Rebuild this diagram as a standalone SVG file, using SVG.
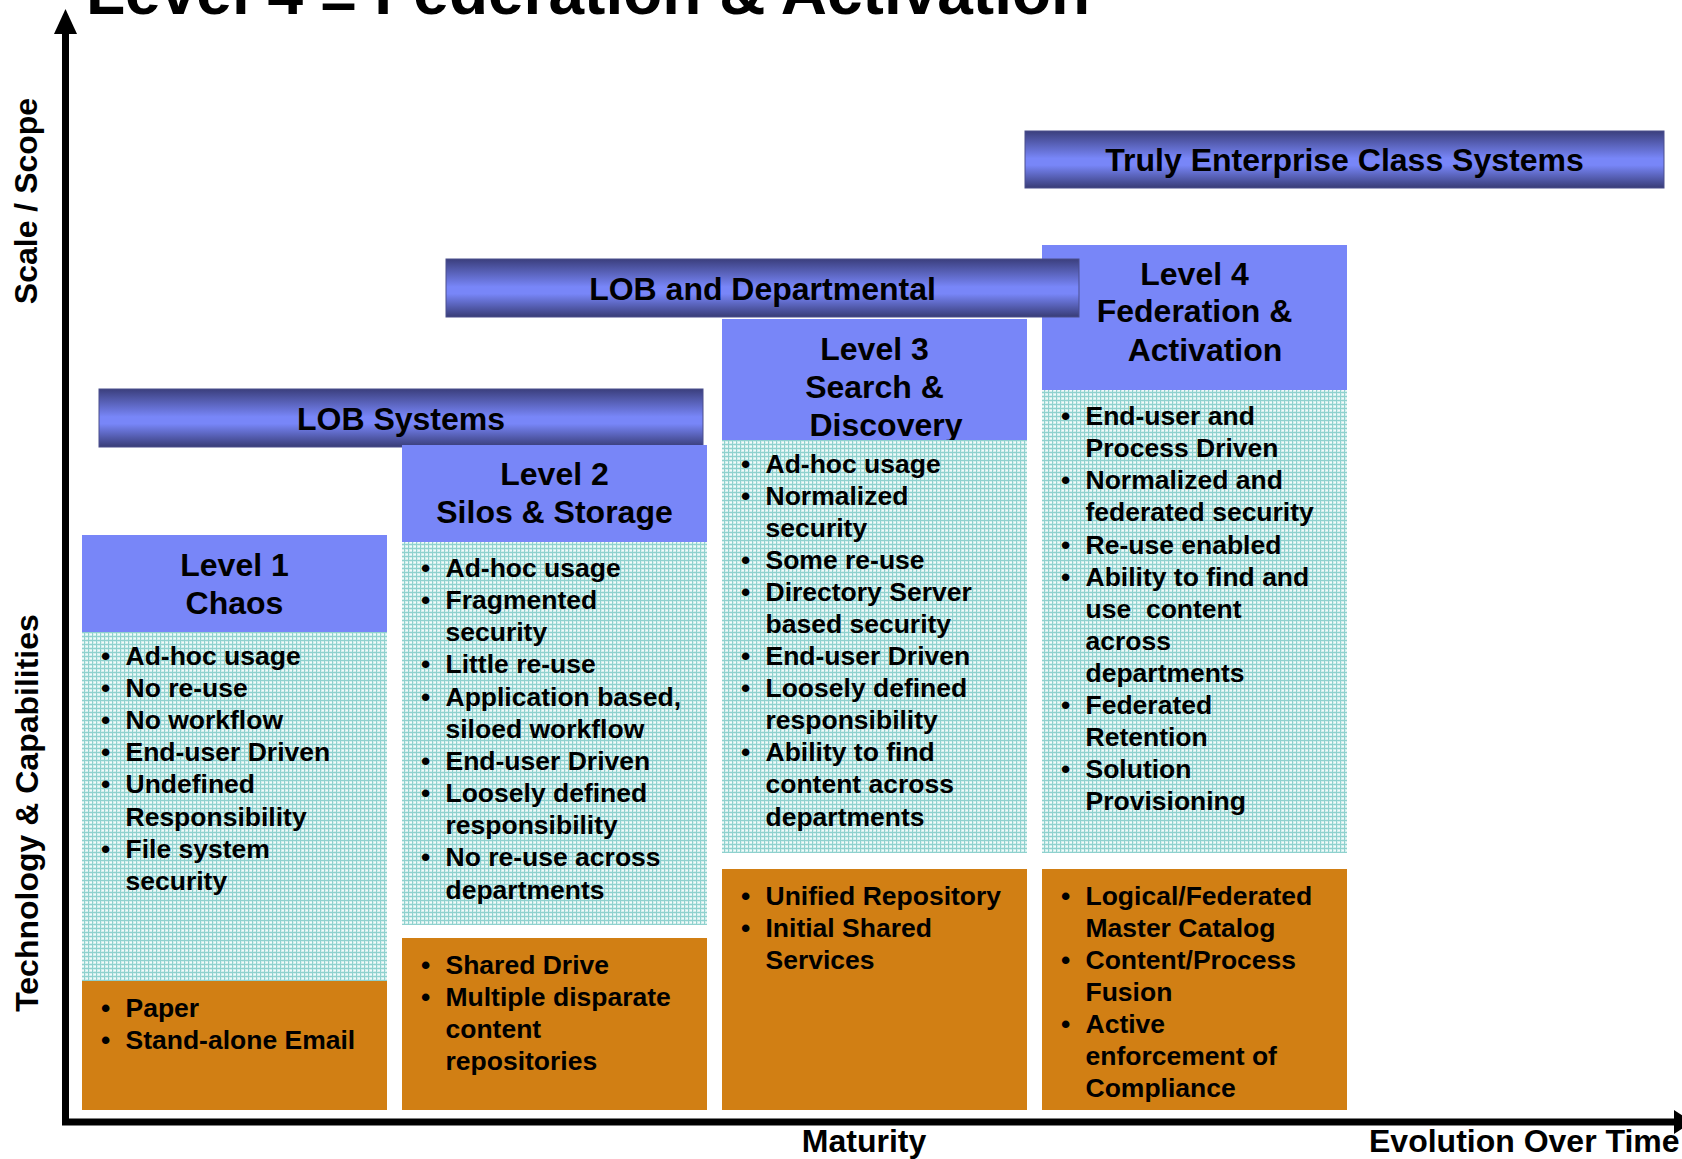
<svg xmlns="http://www.w3.org/2000/svg" width="1682" height="1159" viewBox="0 0 1682 1159">
  <style>
    text { font-family: "Liberation Sans", Arial, sans-serif; font-weight: bold; fill: #000; }
    .title { font-size: 64px; }
    .axis { font-size: 32px; }
    .band-label { font-size: 32px; text-anchor: middle; }
    .head { font-size: 32px; text-anchor: middle; }
    .item { font-size: 26.5px; }
    .head-bg { fill: #7886f8; }
    .body-bg { fill: url(#grid); }
    .base-bg { fill: #d17f14; }
    .band { fill: url(#bandShade); stroke: #4a4f8c; stroke-width: 1; }
  </style>
  <defs>
    <!-- fine teal check used behind the capability lists -->
    <pattern id="grid" width="4" height="4" patternUnits="userSpaceOnUse">
      <rect width="4" height="4" fill="#d2efed"/>
      <rect x="0" y="0" width="4" height="1" fill="#8fd1ce"/>
      <rect x="0" y="0" width="1" height="4" fill="#8fd1ce"/>
      <rect x="2" y="2" width="2" height="1" fill="#f4fbfb"/>
    </pattern>
    <!-- navy-to-blue cylinder shading for the scope bands -->
    <linearGradient id="bandShade" x1="0" y1="0" x2="0" y2="1">
      <stop offset="0" stop-color="#3b3f7d"/>
      <stop offset="0.48" stop-color="#7886f8"/>
      <stop offset="0.6" stop-color="#7886f8"/>
      <stop offset="1" stop-color="#383c76"/>
    </linearGradient>
  </defs>

  <rect width="1682" height="1159" fill="#ffffff"/>

  <!-- heading, partly above the top edge -->
  <text class="title" x="86" y="14">Level 4 <tspan dy="10">–</tspan><tspan dy="-10"> Federation &amp; Activation</tspan></text>

  <!-- axes -->
  <g id="connectors">
    <line x1="65.5" y1="30" x2="65.5" y2="1125" stroke="#000" stroke-width="7"/>
    <polygon points="65.5,9 54,34 77,34" fill="#000"/>
    <line x1="62" y1="1122" x2="1676" y2="1122" stroke="#000" stroke-width="7"/>
    <polygon points="1692,1122 1674,1110 1674,1134" fill="#000"/>
  </g>

  <!-- axis captions -->
  <g id="axis-labels">
    <text class="axis" text-anchor="middle" transform="translate(37,201) rotate(-90)">Scale / Scope</text>
    <text class="axis" text-anchor="middle" transform="translate(37.5,813) rotate(-90)">Technology &amp; Capabilities</text>
    <text class="axis" x="864" y="1152" text-anchor="middle">Maturity</text>
    <text class="axis" x="1369" y="1152">Evolution Over Time</text>
  </g>

  <!-- scope bands -->
  <g id="band-lob">
    <rect class="band" x="99" y="389" width="604" height="58"/>
    <text class="band-label" x="401" y="429.5">LOB Systems</text>
  </g>

  <!-- Level 1 -->
  <g id="level1">
    <rect class="head-bg" x="82" y="535" width="305" height="97"/>
    <text class="head" x="234.5" y="576">Level 1</text>
    <text class="head" x="234.5" y="614">Chaos</text>
    <rect class="body-bg" x="82" y="632" width="305" height="349"/>
    <text class="item">
      <tspan x="101" y="665">•</tspan><tspan x="125.5" y="665">Ad-hoc usage</tspan>
      <tspan x="101" y="697">•</tspan><tspan x="125.5" y="697">No re-use</tspan>
      <tspan x="101" y="729">•</tspan><tspan x="125.5" y="729">No workflow</tspan>
      <tspan x="101" y="761">•</tspan><tspan x="125.5" y="761">End-user Driven</tspan>
      <tspan x="101" y="793">•</tspan><tspan x="125.5" y="793">Undefined</tspan>
      <tspan x="125.5" y="826">Responsibility</tspan>
      <tspan x="101" y="858">•</tspan><tspan x="125.5" y="858">File system</tspan>
      <tspan x="125.5" y="890">security</tspan>
    </text>
    <rect class="base-bg" x="82" y="981" width="305" height="129"/>
    <text class="item">
      <tspan x="101" y="1017">•</tspan><tspan x="125.5" y="1017">Paper</tspan>
      <tspan x="101" y="1049">•</tspan><tspan x="125.5" y="1049">Stand-alone Email</tspan>
    </text>
  </g>

  <!-- Level 2 -->
  <g id="level2">
    <rect class="head-bg" x="402" y="445" width="305" height="97"/>
    <text class="head" x="554.5" y="485">Level 2</text>
    <text class="head" x="554.5" y="523">Silos &amp; Storage</text>
    <rect class="body-bg" x="402" y="542" width="305" height="383"/>
    <text class="item">
      <tspan x="421" y="577">•</tspan><tspan x="445.5" y="577">Ad-hoc usage</tspan>
      <tspan x="421" y="609">•</tspan><tspan x="445.5" y="609">Fragmented</tspan>
      <tspan x="445.5" y="641">security</tspan>
      <tspan x="421" y="673">•</tspan><tspan x="445.5" y="673">Little re-use</tspan>
      <tspan x="421" y="705.5">•</tspan><tspan x="445.5" y="705.5">Application based,</tspan>
      <tspan x="445.5" y="738">siloed workflow</tspan>
      <tspan x="421" y="770">•</tspan><tspan x="445.5" y="770">End-user Driven</tspan>
      <tspan x="421" y="802">•</tspan><tspan x="445.5" y="802">Loosely defined</tspan>
      <tspan x="445.5" y="834">responsibility</tspan>
      <tspan x="421" y="866">•</tspan><tspan x="445.5" y="866">No re-use across</tspan>
      <tspan x="445.5" y="898.5">departments</tspan>
    </text>
    <rect class="base-bg" x="402" y="938" width="305" height="172"/>
    <text class="item">
      <tspan x="421" y="974">•</tspan><tspan x="445.5" y="974">Shared Drive</tspan>
      <tspan x="421" y="1006">•</tspan><tspan x="445.5" y="1006">Multiple disparate</tspan>
      <tspan x="445.5" y="1038">content</tspan>
      <tspan x="445.5" y="1070">repositories</tspan>
    </text>
  </g>

  <!-- Level 3 -->
  <g id="level3">
    <rect class="head-bg" x="722" y="319" width="305" height="121"/>
    <text class="head" x="874.5" y="360">Level 3</text>
    <text class="head" x="874.5" y="397.5">Search &amp;</text>
    <text class="head" x="886" y="436">Discovery</text>
    <rect class="body-bg" x="722" y="440" width="305" height="413"/>
    <text class="item">
      <tspan x="741" y="473">•</tspan><tspan x="765.5" y="473">Ad-hoc usage</tspan>
      <tspan x="741" y="505">•</tspan><tspan x="765.5" y="505">Normalized</tspan>
      <tspan x="765.5" y="537">security</tspan>
      <tspan x="741" y="569">•</tspan><tspan x="765.5" y="569">Some re-use</tspan>
      <tspan x="741" y="601">•</tspan><tspan x="765.5" y="601">Directory Server</tspan>
      <tspan x="765.5" y="633">based security</tspan>
      <tspan x="741" y="665">•</tspan><tspan x="765.5" y="665">End-user Driven</tspan>
      <tspan x="741" y="697">•</tspan><tspan x="765.5" y="697">Loosely defined</tspan>
      <tspan x="765.5" y="729">responsibility</tspan>
      <tspan x="741" y="761">•</tspan><tspan x="765.5" y="761">Ability to find</tspan>
      <tspan x="765.5" y="793">content across</tspan>
      <tspan x="765.5" y="825.5">departments</tspan>
    </text>
    <rect class="base-bg" x="722" y="869" width="305" height="241"/>
    <text class="item">
      <tspan x="741" y="905">•</tspan><tspan x="765.5" y="905">Unified Repository</tspan>
      <tspan x="741" y="937">•</tspan><tspan x="765.5" y="937">Initial Shared</tspan>
      <tspan x="765.5" y="969">Services</tspan>
    </text>
  </g>

  <!-- Level 4 -->
  <g id="level4">
    <rect class="head-bg" x="1042" y="245" width="305" height="145"/>
    <text class="head" x="1194.5" y="285">Level 4</text>
    <text class="head" x="1194.5" y="322">Federation &amp;</text>
    <text class="head" x="1205" y="361">Activation</text>
    <rect class="body-bg" x="1042" y="390" width="305" height="463"/>
    <text class="item">
      <tspan x="1061" y="425">•</tspan><tspan x="1085.5" y="425">End-user and</tspan>
      <tspan x="1085.5" y="457">Process Driven</tspan>
      <tspan x="1061" y="489">•</tspan><tspan x="1085.5" y="489">Normalized and</tspan>
      <tspan x="1085.5" y="521">federated security</tspan>
      <tspan x="1061" y="553.5">•</tspan><tspan x="1085.5" y="553.5">Re-use enabled</tspan>
      <tspan x="1061" y="586">•</tspan><tspan x="1085.5" y="586">Ability to find and</tspan>
      <tspan x="1085.5" y="618" xml:space="preserve">use  content</tspan>
      <tspan x="1085.5" y="650">across</tspan>
      <tspan x="1085.5" y="682">departments</tspan>
      <tspan x="1061" y="714">•</tspan><tspan x="1085.5" y="714">Federated</tspan>
      <tspan x="1085.5" y="746">Retention</tspan>
      <tspan x="1061" y="778">•</tspan><tspan x="1085.5" y="778">Solution</tspan>
      <tspan x="1085.5" y="810">Provisioning</tspan>
    </text>
    <rect class="base-bg" x="1042" y="869" width="305" height="241"/>
    <text class="item">
      <tspan x="1061" y="905">•</tspan><tspan x="1085.5" y="905">Logical/Federated</tspan>
      <tspan x="1085.5" y="937">Master Catalog</tspan>
      <tspan x="1061" y="969">•</tspan><tspan x="1085.5" y="969">Content/Process</tspan>
      <tspan x="1085.5" y="1001">Fusion</tspan>
      <tspan x="1061" y="1033">•</tspan><tspan x="1085.5" y="1033">Active</tspan>
      <tspan x="1085.5" y="1065">enforcement of</tspan>
      <tspan x="1085.5" y="1097">Compliance</tspan>
    </text>
  </g>

  <!-- departmental band sits in front of the Level 4 header -->
  <g id="band-departmental">
    <rect class="band" x="446" y="259" width="633" height="58"/>
    <text class="band-label" x="762.5" y="299.5">LOB and Departmental</text>
  </g>

  <g id="band-enterprise">
    <rect class="band" x="1025" y="131" width="639" height="57"/>
    <text class="band-label" x="1344.5" y="170.5">Truly Enterprise Class Systems</text>
  </g>
</svg>
